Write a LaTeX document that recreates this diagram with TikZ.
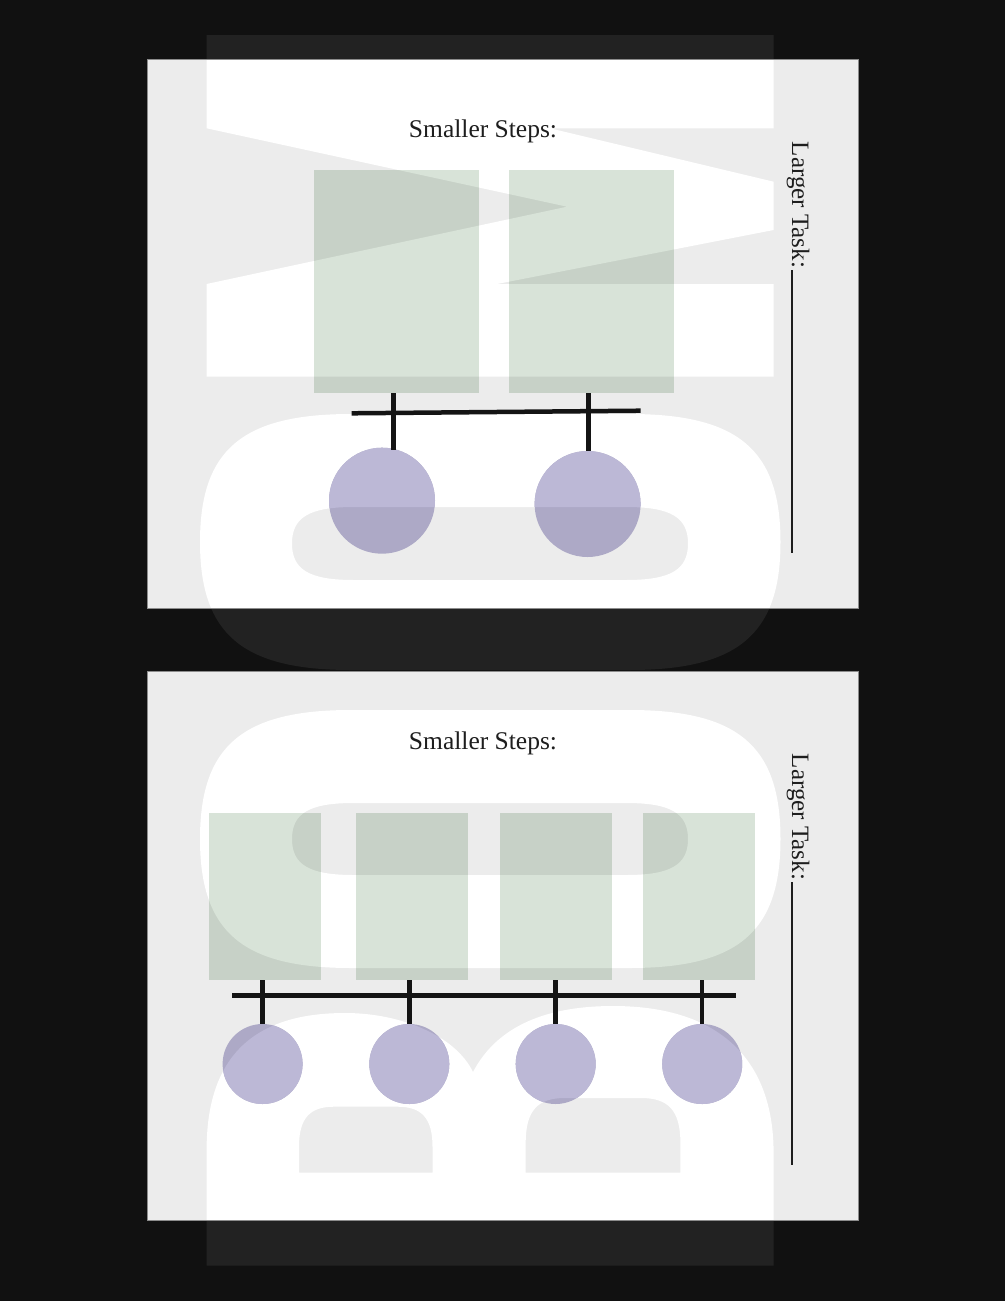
\documentclass[tikz,border=0pt]{standalone}
\usepackage{fontspec}
\setmainfont{Liberation Serif}
\definecolor{bgblack}{HTML}{111111}
\definecolor{letterdark}{HTML}{222222}
\definecolor{panelgray}{HTML}{ECECEC}
\definecolor{paneledge}{HTML}{8C8C8C}
\definecolor{greenlt}{HTML}{D8E3D8}
\definecolor{greendk}{HTML}{C7D1C7}
\definecolor{purplelt}{HTML}{BCB8D6}
\definecolor{purpledk}{HTML}{ADA9C6}
\definecolor{inkblack}{HTML}{141414}
\definecolor{textink}{HTML}{1E1E1E}

% rounded "squircle" path: x1 y1 x2 y2 rx ry (px, y down)
\newcommand\sqpath[6]{({#1},{#2+#6}) .. controls ({#1},{#2+0.28*#6}) and ({#1+0.28*#5},{#2}) .. ({#1+#5},{#2}) -- ({#3-#5},{#2}) .. controls ({#3-0.28*#5},{#2}) and ({#3},{#2+0.28*#6}) .. ({#3},{#2+#6}) -- ({#3},{#4-#6}) .. controls ({#3},{#4-0.28*#6}) and ({#3-0.28*#5},{#4}) .. ({#3-#5},{#4}) -- ({#1+#5},{#4}) .. controls ({#1+0.28*#5},{#4}) and ({#1},{#4-0.28*#6}) .. ({#1},{#4-#6}) -- cycle}

\newcommand\letterpaths{%
 (206.6,35) -- (773.6,35) -- (773.6,128.3) -- (550,128.3) -- (773.6,181.7) -- (773.6,230) -- (497,284) -- (773.6,284) -- (773.6,376.7) -- (206.6,376.7) -- (206.6,284) -- (567,206.7) -- (206.6,128.3) -- cycle
 \sqpath{200}{414}{780.5}{670}{151}{128}
 \sqpath{292}{507}{688}{580}{62}{36.5}
 \sqpath{200}{710}{780.5}{968}{151}{129}
 \sqpath{292}{803}{688}{875}{62}{36}
 (206.6,1265.7) -- (206.6,1150) .. controls (206.6,1060) and (250,1013) .. (345,1013) .. controls (400,1013) and (455,1035) .. (473,1072) .. controls (495,1030) and (540,1006) .. (613,1006) .. controls (720,1006) and (773.6,1060) .. (773.6,1153) -- (773.6,1265.7) -- cycle
 (299,1172.7) -- (299,1146.7) .. controls (299,1118) and (310,1106.7) .. (334,1106.7) -- (397.5,1106.7) .. controls (421.5,1106.7) and (432.5,1118) .. (432.5,1146.7) -- (432.5,1172.7) -- cycle
 (525.7,1172.7) -- (525.7,1143) .. controls (525.7,1110) and (538,1098) .. (565,1098) -- (641,1098) .. controls (668,1098) and (680.4,1110) .. (680.4,1143) -- (680.4,1172.7) -- cycle
}

\tikzset{
 panel/.style={fill=panelgray},
 paneline/.style={draw=paneledge, line width=1pt},
 gbox/.style={rectangle, fill=greendk, draw=none, inner sep=0pt, outer sep=0pt},
 pcirc/.style={circle, fill=purpledk, draw=none, inner sep=0pt, outer sep=0pt},
 bar/.style={draw=inkblack, line width=4.5pt},
 steps/.style={text=textink, font=\fontsize{25.5}{30}\selectfont, inner sep=0pt},
 task/.style={text=textink, font=\fontsize{25}{30}\selectfont, inner sep=0pt},
 taskline/.style={draw=textink, line width=1.4pt}
}

\begin{document}
\begin{tikzpicture}[x=1pt, y=-1pt]
\useasboundingbox (0,0) rectangle (1005,1301);
\fill[bgblack] (0,0) rectangle (1005,1301);
\fill[letterdark, even odd rule] \letterpaths;

% panels
\fill[panel] (147,59) rectangle (858,608);
\fill[panel] (147,671) rectangle (858,1220);
\begin{scope}
 \clip (147,59) rectangle (858,608) (147,671) rectangle (858,1220);
 \fill[white, even odd rule] \letterpaths;
\end{scope}
\draw[paneline] (147,59) rectangle (858,608);
\draw[paneline] (147,671) rectangle (858,1220);

% ---- top panel boxes and circles
\node[gbox, minimum width=165.5pt, minimum height=223pt] (a1) at (396.25,281.5) {};
\node[gbox, minimum width=165.5pt, minimum height=223pt] (a2) at (591.25,281.5) {};
\node[pcirc, minimum size=106pt] (p1) at (382,500.7) {};
\node[pcirc, minimum size=106pt] (p2) at (587.6,504) {};

% ---- bottom panel boxes and circles
\node[gbox, minimum width=112pt, minimum height=167.3pt] (b1) at (265,896.35) {};
\node[gbox, minimum width=112pt, minimum height=167.3pt] (b2) at (412,896.35) {};
\node[gbox, minimum width=112pt, minimum height=167.3pt] (b3) at (555.5,896.35) {};
\node[gbox, minimum width=112pt, minimum height=167.3pt] (b4) at (698.85,896.35) {};
\node[pcirc, minimum size=80pt] (q1) at (262.6,1064) {};
\node[pcirc, minimum size=80pt] (q2) at (409.3,1064) {};
\node[pcirc, minimum size=80pt] (q3) at (555.7,1064) {};
\node[pcirc, minimum size=80pt] (q4) at (702.2,1064) {};

% lighter tints where shapes lie over the white letters
\begin{scope}[even odd rule]
 \clip \letterpaths;
 \foreach \n in {a1,a2,b1,b2,b3,b4}{\fill[greenlt] (\n.south west) rectangle (\n.north east);}
 \fill[purplelt] (p1.center) circle[radius=53];
 \fill[purplelt] (p2.center) circle[radius=53];
 \foreach \n in {q1,q2,q3,q4}{\fill[purplelt] (\n.center) circle[radius=40];}
\end{scope}

% ---- connectors top
\coordinate (h1a) at (351.7,413.3);
\coordinate (h1b) at (640.7,410.7);
\coordinate (k1) at (393.3,450);
\coordinate (k2) at (588.3,451);
\draw[bar] (h1a) -- (h1b);
\draw[bar] (k1 |- a1.south) -- (k1);
\draw[bar] (k2 |- a2.south) -- (k2);

% ---- connectors bottom
\coordinate (h2a) at (232,995.3);
\coordinate (h2b) at (735.5,995.3);
\draw[bar] (h2a) -- (h2b);
\foreach \c/\g in {q1/b1,q2/b2,q3/b3,q4/b4}{\draw[bar] (\c.north |- \g.south) -- (\c.north);}

% ---- texts
\node[steps, anchor=base] (s1) at (483,137.3) {Smaller Steps:};
\node[steps, anchor=base] (s2) at (483,749.3) {Smaller Steps:};
\node[task, rotate=-90, anchor=base west] (t1) at (792,141.7) {Larger Task:};
\node[task, rotate=-90, anchor=base west] (t2) at (792,753.7) {Larger Task:};
\coordinate (e1) at (792,553);
\coordinate (e2) at (792,1165);
\draw[taskline] ([yshift=-2pt]t1.base east) -- (e1);
\draw[taskline] ([yshift=-2pt]t2.base east) -- (e2);
\end{tikzpicture}
\end{document}
